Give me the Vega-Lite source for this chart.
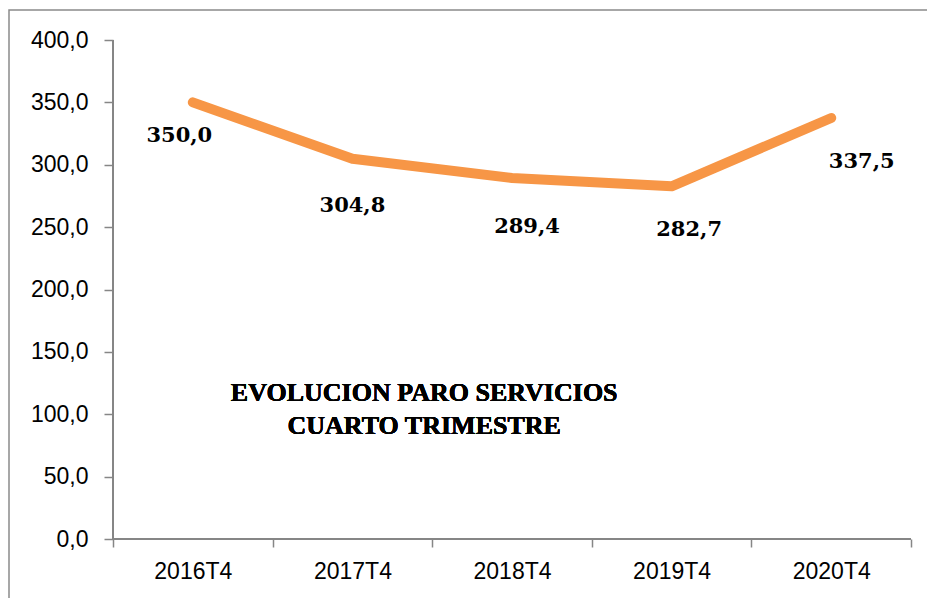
{
  "$schema": "https://vega.github.io/schema/vega-lite/v6.json",
  "width": 930,
  "height": 600,
  "autosize": {"type": "none"},
  "padding": {"left": 9, "top": 10, "right": -12, "bottom": -12},
  "background": "white",
  "config": {
    "locale": {"number": {"decimal": ",", "thousands": ".", "grouping": [3], "currency": ["", " €"]}},
    "view": {"stroke": "#8a8a8a", "strokeWidth": 1.5},
    "axis": {
      "labelFont": "Liberation Sans",
      "labelFontSize": 23,
      "labelColor": "#000000",
      "tickColor": "#868686",
      "tickWidth": 1.5,
      "domain": false,
      "grid": false,
      "title": null
    },
    "text": {"font": "DejaVu Serif", "fontWeight": "bold", "fontSize": 21, "color": "#000000", "baseline": "middle"}
  },
  "data": {
    "values": [
      {"q": "2016T4", "v": 350.0},
      {"q": "2017T4", "v": 304.8},
      {"q": "2018T4", "v": 289.4},
      {"q": "2019T4", "v": 282.7},
      {"q": "2020T4", "v": 337.5}
    ]
  },
  "layer": [
    {
      "mark": {"type": "line", "color": "#F79646", "strokeWidth": 10, "strokeCap": "round", "strokeJoin": "round"},
      "encoding": {
        "x": {
          "field": "q", "type": "nominal", "sort": null, "bandPosition": 0.5,
          "scale": {"type": "band", "paddingInner": 0, "paddingOuter": 0.4135, "align": 0.788},
          "axis": {"offset": -71, "tickBand": "extent", "tickSize": 8, "labelPadding": 13, "labelAngle": 0}
        },
        "y": {
          "field": "v", "type": "quantitative",
          "scale": {"domain": [-56.91, 424.05], "nice": false, "zero": false},
          "axis": {"offset": -104, "values": [0, 50, 100, 150, 200, 250, 300, 350, 400], "format": ".1f", "tickSize": 9, "labelPadding": 16}
        }
      }
    },
    {
      "mark": {"type": "rule", "color": "#868686", "strokeWidth": 1.5},
      "encoding": {
        "x": {"datum": "2016T4", "type": "nominal", "bandPosition": 0},
        "y": {"datum": 0, "type": "quantitative"},
        "y2": {"datum": 400}
      }
    },
    {
      "mark": {"type": "rule", "color": "#868686", "strokeWidth": 1.5},
      "encoding": {
        "x": {"datum": "2016T4", "type": "nominal", "bandPosition": 0},
        "x2": {"datum": "2020T4", "bandPosition": 1},
        "y": {"datum": 0, "type": "quantitative"}
      }
    },
    {
      "transform": [{"filter": "datum.q == '2016T4'"}],
      "mark": {"type": "text", "dx": -13.5, "dy": 34},
      "encoding": {
        "x": {"field": "q", "type": "nominal", "sort": null, "bandPosition": 0.5},
        "y": {"field": "v", "type": "quantitative"},
        "text": {"field": "v", "type": "quantitative", "format": ".1f"}
      }
    },
    {
      "transform": [{"filter": "datum.q == '2017T4'"}],
      "mark": {"type": "text", "dx": 0, "dy": 47},
      "encoding": {
        "x": {"field": "q", "type": "nominal", "sort": null, "bandPosition": 0.5},
        "y": {"field": "v", "type": "quantitative"},
        "text": {"field": "v", "type": "quantitative", "format": ".1f"}
      }
    },
    {
      "transform": [{"filter": "datum.q == '2018T4'"}],
      "mark": {"type": "text", "dx": 15, "dy": 49},
      "encoding": {
        "x": {"field": "q", "type": "nominal", "sort": null, "bandPosition": 0.5},
        "y": {"field": "v", "type": "quantitative"},
        "text": {"field": "v", "type": "quantitative", "format": ".1f"}
      }
    },
    {
      "transform": [{"filter": "datum.q == '2019T4'"}],
      "mark": {"type": "text", "dx": 17.5, "dy": 44},
      "encoding": {
        "x": {"field": "q", "type": "nominal", "sort": null, "bandPosition": 0.5},
        "y": {"field": "v", "type": "quantitative"},
        "text": {"field": "v", "type": "quantitative", "format": ".1f"}
      }
    },
    {
      "transform": [{"filter": "datum.q == '2020T4'"}],
      "mark": {"type": "text", "dx": 30.5, "dy": 44},
      "encoding": {
        "x": {"field": "q", "type": "nominal", "sort": null, "bandPosition": 0.5},
        "y": {"field": "v", "type": "quantitative"},
        "text": {"field": "v", "type": "quantitative", "format": ".1f"}
      }
    },
    {
      "mark": {"type": "text", "text": ["EVOLUCION PARO SERVICIOS", "CUARTO TRIMESTRE"], "font": "Liberation Serif", "fontWeight": "bold", "fontSize": 26, "lineHeight": 33, "color": "#000000", "align": "center", "baseline": "alphabetic", "dx": -8},
      "encoding": {
        "x": {"datum": "2017T4", "type": "nominal", "bandPosition": 1},
        "y": {"datum": 111, "type": "quantitative"}
      }
    }
  ]
}
